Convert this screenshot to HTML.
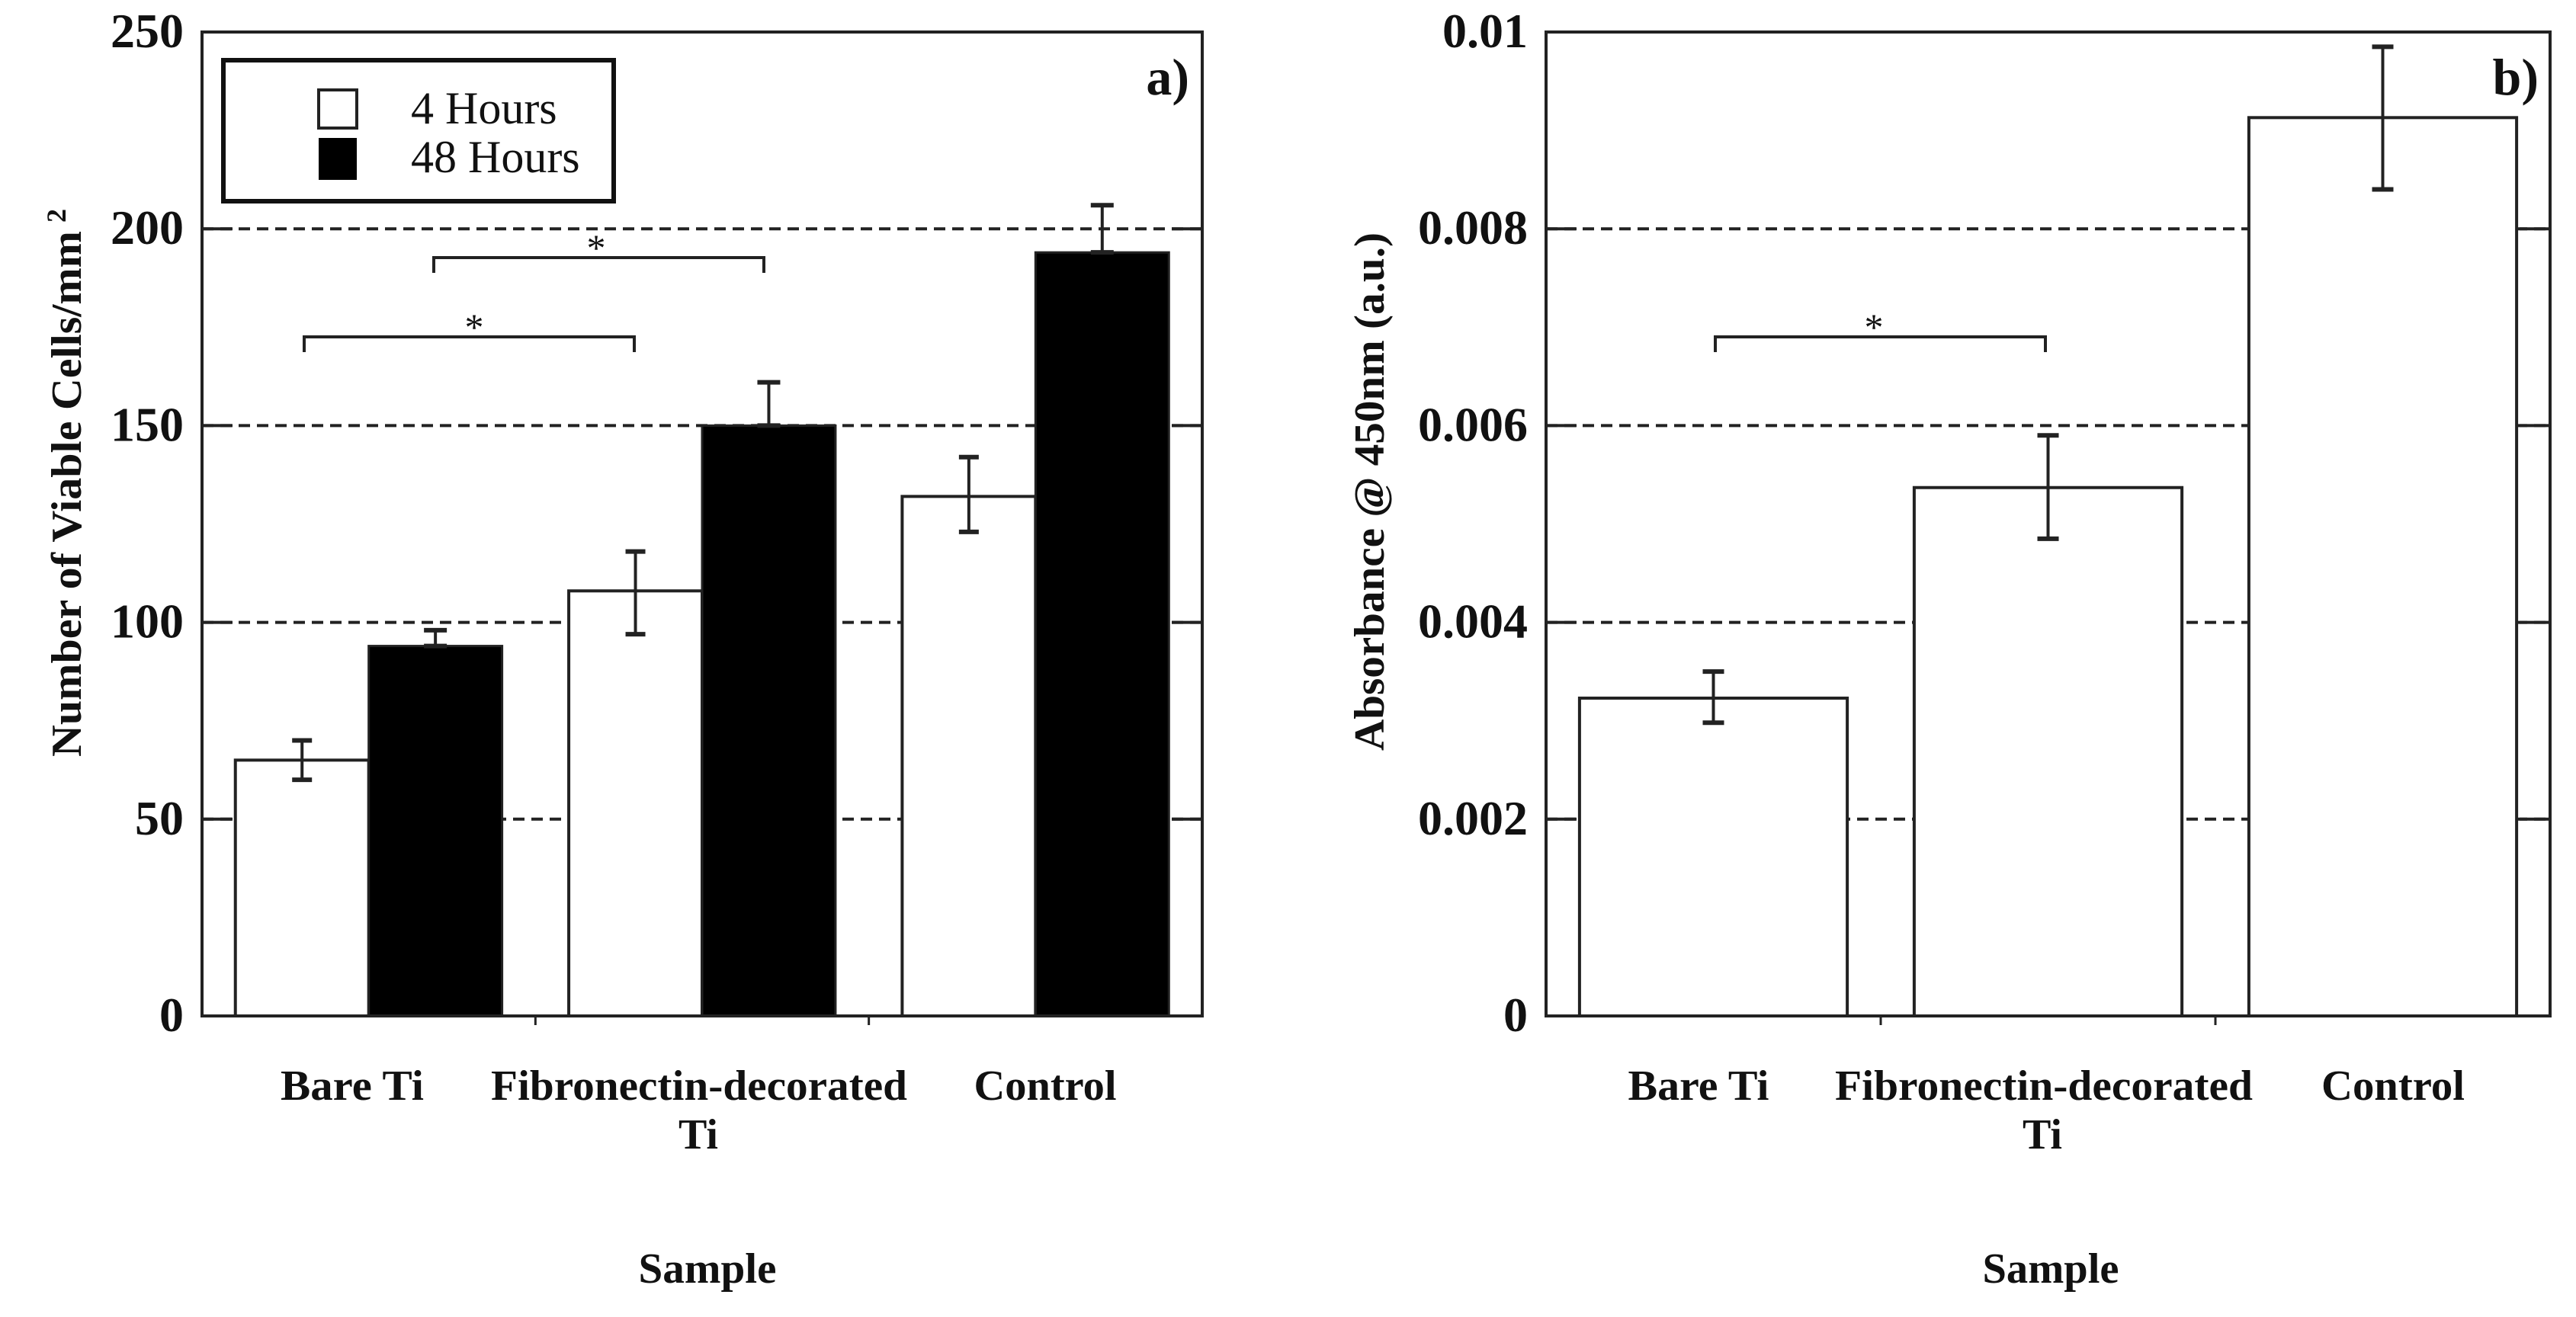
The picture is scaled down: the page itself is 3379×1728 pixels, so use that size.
<!DOCTYPE html>
<html><head><meta charset="utf-8"><style>
html,body{margin:0;padding:0;background:#fff;}
svg{display:block;}
text{font-family:"Liberation Serif",serif;fill:#111;}
</style></head><body>
<svg id="fig" width="3379" height="1728" viewBox="0 0 3379 1728">
</svg>
<script>
// ---- Panel a data ----
const catsA = ["Bare Ti", "Fibronectin-decorated", "Control"];
const h4Vals = [65, 108, 132];
const h4Lo = [60, 97, 123];
const h4Hi = [70, 118, 142];
const h48Vals = [94, 150, 194];
const h48Hi = [98, 161, 206];
const ticksA = [0, 50, 100, 150, 200, 250];
// ---- Panel b data ----
const absVals = [0.00323, 0.00537, 0.00913];
const absLo = [0.00298, 0.00485, 0.0084];
const absHi = [0.0035, 0.0059, 0.00985];
const ticksB = [0, 0.002, 0.004, 0.006, 0.008, 0.01];
const ticksBLabels = ["0", "0.002", "0.004", "0.006", "0.008", "0.01"];

const NS = "http://www.w3.org/2000/svg";
const svg = document.getElementById("fig");
function mk(tag, attrs, parent, txt) {
  const e = document.createElementNS(NS, tag);
  for (const k in attrs) e.setAttribute(k, attrs[k]);
  if (txt !== undefined) e.textContent = txt;
  (parent || svg).appendChild(e);
  return e;
}

function panel(opts) {
  const g = mk("g", {});
  
  
  const L = opts.x0, R = opts.x1, T = 42, B = 1333;
  const y = v => B - (v - opts.min) / (opts.max - opts.min) * (B - T);
  const groupW = (R - L) / opts.n;
  const cx = i => L + groupW * (i + 0.5);
  opts.ticks.forEach((t, i) => {
    if (i === 0 || i === opts.ticks.length - 1) return;
    const ln = mk("line", {x1: L, x2: R, y1: y(t), y2: y(t), stroke: "#222", "stroke-width": 4, "stroke-dasharray": "15 9"}, g);
    
    
    mk("line", {x1: L, x2: L + 40, y1: y(t), y2: y(t), stroke: "#222", "stroke-width": 4}, g);
    mk("line", {x1: R - 40, x2: R, y1: y(t), y2: y(t), stroke: "#222", "stroke-width": 4}, g);
  });
  opts.ticks.forEach((t, i) => {
    const tl = mk("text", {x: L - 24, y: y(t) + 20, "text-anchor": "end", "font-size": 64, "font-weight": "bold"}, g, opts.tickLabels[i]);
    
    
  });
  opts.draw(g, y, cx, groupW);
  const fr = mk("rect", {x: L, y: T, width: R - L, height: B - T, fill: "none", stroke: "#222", "stroke-width": 4}, g);
  
  
  for (let i = 1; i < opts.n; i++) mk("line", {x1: L + groupW * i, x2: L + groupW * i, y1: B, y2: B + 12, stroke: "#222", "stroke-width": 3}, g);
  return {g, y, cx};
}

function errBar(g, x, lo, hi, capW) {
  const e = mk("g", {}, g);
  
  
  mk("line", {x1: x, x2: x, y1: lo, y2: hi, stroke: "#222", "stroke-width": 4}, e);
  mk("line", {x1: x - capW / 2, x2: x + capW / 2, y1: hi, y2: hi, stroke: "#222", "stroke-width": 6}, e);
  if (lo !== null) mk("line", {x1: x - capW / 2, x2: x + capW / 2, y1: lo, y2: lo, stroke: "#222", "stroke-width": 6}, e);
}

function bracket(g, x1, x2, yy, name, starX) {
  const b = mk("g", {}, g);
  
  
  mk("path", {d: `M${x1} ${yy + 20} V${yy} H${x2} V${yy + 20}`, fill: "none", stroke: "#222", "stroke-width": 4}, b);
  mk("text", {x: starX, y: yy + 4, "text-anchor": "middle", "font-size": 50}, b, "*");
}

// ---- Panel a ----
panel({
  name: "panel-a", x0: 265, x1: 1577, min: 0, max: 250, n: 3,
  ticks: ticksA, tickLabels: ticksA.map(String),
  draw: (g, y, cx, gw) => {
    const bw = gw * 0.4;
    catsA.forEach((c, i) => {
      const b1 = mk("rect", {x: cx(i) - bw, y: y(h4Vals[i]), width: bw, height: y(0) - y(h4Vals[i]), fill: "#fff", stroke: "#222", "stroke-width": 4}, g);
      
      
      errBar(g, cx(i) - bw / 2, y(h4Lo[i]), y(h4Hi[i]), 26);
      const b2 = mk("rect", {x: cx(i), y: y(h48Vals[i]), width: bw, height: y(0) - y(h48Vals[i]), fill: "#000", stroke: "#222", "stroke-width": 3}, g);
      
      
      errBar(g, cx(i) + bw / 2, y(h48Vals[i]), y(h48Hi[i]), 30);
    });
  }
});
bracket(svg, 399, 832, 442, "significance-bracket", 622);
bracket(svg, 569, 1002, 338, "significance-bracket", 782);

const lg = mk("g", {});


mk("rect", {x: 293, y: 79, width: 512, height: 185, fill: "#fff", stroke: "#111", "stroke-width": 6}, lg);
const s1 = mk("rect", {x: 418, y: 118, width: 50, height: 50, fill: "#fff", stroke: "#222", "stroke-width": 4}, lg);


const s2 = mk("rect", {x: 418, y: 181, width: 50, height: 55, fill: "#000"}, lg);


const l1 = mk("text", {x: 539, y: 162, "font-size": 60}, lg, "4 Hours");


const l2 = mk("text", {x: 539, y: 226, "font-size": 60}, lg, "48 Hours");



// ---- Panel b ----
panel({
  name: "panel-b", x0: 2028, x1: 3345, min: 0, max: 0.01, n: 3,
  ticks: ticksB, tickLabels: ticksBLabels,
  draw: (g, y, cx, gw) => {
    const bw = gw * 0.8;
    absVals.forEach((v, i) => {
      const b = mk("rect", {x: cx(i) - bw / 2, y: y(v), width: bw, height: y(0) - y(v), fill: "#fff", stroke: "#222", "stroke-width": 4}, g);
      
      
      errBar(g, cx(i), y(absLo[i]), y(absHi[i]), 28);
    });
  }
});
bracket(svg, 2250, 2683, 442, "significance-bracket", 2458);

function label(x, yy, txt, name, len, size, anchor) {
  const a = {x: x, y: yy, "font-size": size || 56, "font-weight": "bold", "text-anchor": anchor || "middle"};
  if (len) { a.textLength = len; a.lengthAdjust = "spacingAndGlyphs"; }
  const t = mk("text", a, svg, txt);
  
  
  return t;
}
label(462, 1443, "Bare Ti", "x-label-bare-ti", 188);
label(917, 1443, "Fibronectin-decorated", "x-label-fibronectin", 546);
label(916, 1507, "Ti", "x-label-fibronectin-line2");
label(1371, 1443, "Control", "x-label-control", 187);
label(928, 1683, "Sample", "x-axis-title-a", 181);
label(2228, 1443, "Bare Ti", "x-label-bare-ti-b", 185);
label(2681, 1443, "Fibronectin-decorated", "x-label-fibronectin-b", 548);
label(2679, 1507, "Ti", "x-label-fibronectin-b-line2");
label(3139, 1443, "Control", "x-label-control-b", 188);
label(2690, 1683, "Sample", "x-axis-title-b", 179);
label(1560, 124, "a)", "panel-label-a", null, 68, "end");
label(3330, 124, "b)", "panel-label-b", null, 68, "end");

const yt1 = mk("text", {x: 0, y: 0, "font-size": 56, "font-weight": "bold", "text-anchor": "middle", transform: "translate(106 648) rotate(-90)", textLength: 690, lengthAdjust: "spacingAndGlyphs"}, svg, "Number of Viable Cells/mm");


const sup = mk("text", {x: 0, y: 0, "font-size": 36, "font-weight": "bold", transform: "translate(86 292) rotate(-90)"}, svg, "2");


const yt2 = mk("text", {x: 0, y: 0, "font-size": 56, "font-weight": "bold", "text-anchor": "middle", transform: "translate(1815 645) rotate(-90)", textLength: 680, lengthAdjust: "spacingAndGlyphs"}, svg, "Absorbance @ 450nm (a.u.)");


</script>
</body></html>
